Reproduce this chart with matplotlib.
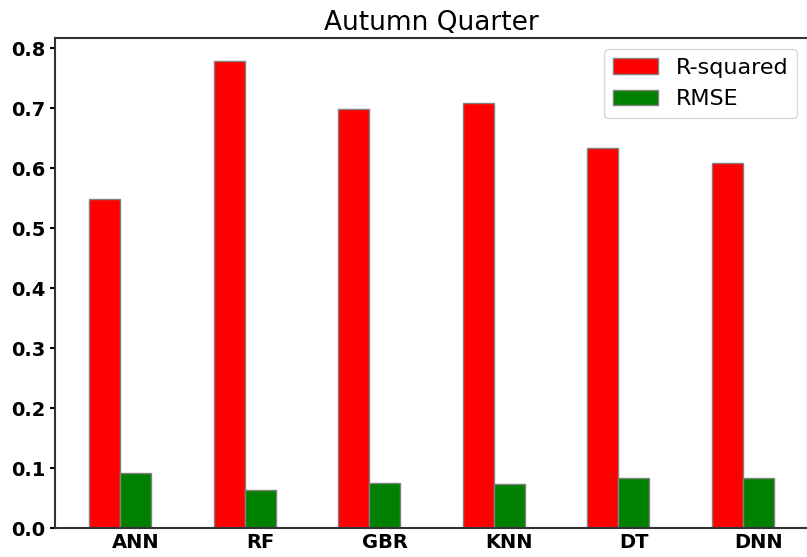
import numpy as np
import matplotlib
matplotlib.use('Agg')
from matplotlib import pyplot as plt

models = ['ANN', 'RF', 'GBR', 'KNN', 'DT', 'DNN']
r_squared = [0.548, 0.778, 0.699, 0.708, 0.634, 0.608]
rmse = [0.092, 0.064, 0.075, 0.073, 0.083, 0.084]

x = np.arange(len(models))
width = 0.25

fig = plt.figure(figsize=(8.07, 5.57), dpi=100)
ax = fig.add_axes([55 / 807, 1 - 528 / 557, 753 / 807, 490 / 557])

ax.bar(x, r_squared, width, color='red', edgecolor='grey', label='R-squared')
ax.bar(x + width, rmse, width, color='green', edgecolor='grey', label='RMSE')

ax.set_xticks(x + width)
ax.set_xticklabels(models)
for lbl in ax.get_xticklabels() + ax.get_yticklabels():
    lbl.set_fontweight('bold')
    lbl.set_fontsize(14)
ax.tick_params(axis='x', length=0)
ax.tick_params(axis='y', width=1.5)
for sp in ax.spines.values():
    sp.set_linewidth(1.5)
    sp.set_color('#333333')
ax.set_title('Autumn Quarter', fontsize=19, fontweight='medium')
ax.legend(loc='upper right', fontsize=16)

fig.savefig('out.png', dpi=100)
